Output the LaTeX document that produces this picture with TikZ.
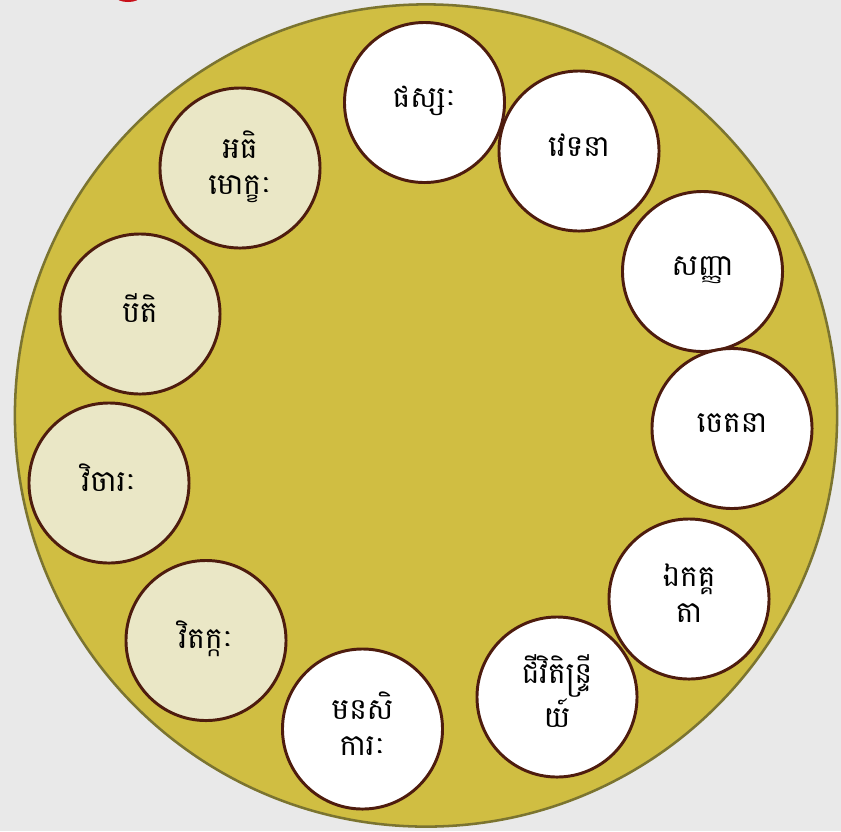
\documentclass[tikz,border=0pt]{standalone}
\usepackage{fontspec}
\newfontfamily\khmerfont[Script=Khmer]{Battambang}
\usepackage{xcolor}
\usetikzlibrary{positioning}

\definecolor{paper}{HTML}{E9E9E9}
\definecolor{wheelfill}{HTML}{D0BE42}
\definecolor{wheeldraw}{HTML}{7B7430}
\definecolor{ringdraw}{HTML}{4E1C0E}
\definecolor{cream}{HTML}{EAE7C6}
\definecolor{markred}{HTML}{C8101A}

\begin{document}
\begin{tikzpicture}[
  x=0.025cm, y=-0.025cm,
  wheel/.style={draw=wheeldraw, line width=1.8pt, fill=wheelfill, circle, minimum size=20.55cm, inner sep=0pt},
  factor/.style={draw=ringdraw, line width=2.1pt, circle, minimum size=4cm, inner sep=0pt,
                 align=center, text depth=8pt, font=\khmerfont\fontsize{21}{25.5}\selectfont},
  common/.style={factor, fill=white},
  occas/.style={factor, fill=cream},
]

% background page
\fill[paper] (0,0) rectangle (841,831);
\useasboundingbox (0,0) rectangle (841,831);

% red mark cut off at the top
\begin{scope}
  \clip (0,0) rectangle (841,831);
  \fill[markred] (128,-3) ellipse [x radius=12, y radius=5];
\end{scope}

% outer wheel
\node[wheel] (wheel) at (426,415.5) {};

% universal factors
\node[common] (phassa) at (424.5,102.5) {ផស្សៈ};
\node[common] (vedana) at (579,151) {វេទនា};
\node[common] (sanna) at (702.5,271.5) {សញ្ញា};
\node[common] (cetana) at (732,428.5) {ចេតនា};
\node[common] (ekaggata) at (689,599) {ឯកគ្គ\\តា};
\node[common] (jivita) at (557,697) {ជីវិតិន្ទ្រី\\យ៍};
\node[common] (manasikara) at (362.5,729) {មនសិ\\ការៈ};

% occasional factors
\node[occas] (vitakka) at (206,640.5) {វិតក្កៈ};
\node[occas] (vicara) at (109,483) {វិចារៈ};
\node[occas] (piti) at (140,314) {បីតិ};
\node[occas] (adhimokkha) at (240,168) {អធិ\\មោក្ខៈ};

\end{tikzpicture}
\end{document}
